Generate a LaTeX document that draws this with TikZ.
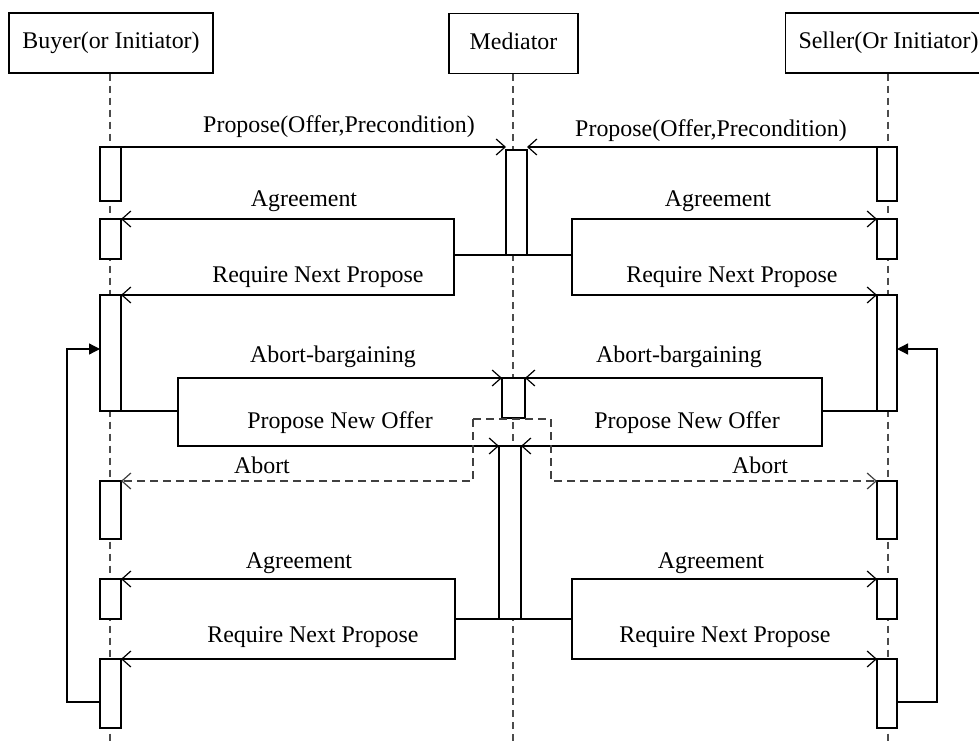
\documentclass[tikz,border=0pt]{standalone}
\usepackage{fontspec}
\setmainfont{Liberation Serif}
\usetikzlibrary{arrows.meta,backgrounds}
\newcommand\lblfont{\fontsize{24}{27}\selectfont}
\tikzset{
 hdr/.style={draw, line width=1.3bp, minimum height=60bp, inner sep=0, font=\lblfont, text height=17bp, text depth=5bp},
 act/.style={draw, fill=white, line width=1.3bp, inner sep=0, outer sep=0, anchor=north},
 life/.style={dash pattern=on 7bp off 5bp, line width=1.3bp, black!70},
 conn/.style={line width=1.3bp},
 msg/.style={conn, -{Straight Barb[length=9bp,width=16bp,line width=1.2bp]}},
 dconn/.style={conn, black!75, dash pattern=on 8bp off 5bp},
 dmsg/.style={msg, black!75, dash pattern=on 8bp off 5bp},
 loopar/.style={conn, -{Triangle[length=11bp,width=11bp]}},
 lbl/.style={font=\lblfont, inner sep=0}
}
\begin{document}
\begin{tikzpicture}[x=1bp,y=-1bp]
\useasboundingbox (0,0) rectangle (979,742);
\clip (0,0) rectangle (979,742);
% headers
\node[hdr, minimum width=204bp] (buyer) at (111,43) {Buyer(or Initiator)};
\node[hdr, minimum width=129bp] (med) at (513.5,43.5) {Mediator};
\node[hdr, minimum width=206bp] (seller) at (888.5,43) {Seller(Or Initiator)};
% bottom ends of lifelines
\coordinate (bbot) at (110,742);
\coordinate (mbot) at (513,742);
\coordinate (sbot) at (888,742);
% buyer activations
\node[act, minimum width=21bp, minimum height=54bp] (b1) at (110.5,147) {};
\node[act, minimum width=21bp, minimum height=40bp] (b2) at (110.5,219) {};
\node[act, minimum width=21bp, minimum height=116bp] (b3) at (110.5,295) {};
\node[act, minimum width=21bp, minimum height=58bp] (b4) at (110.5,481) {};
\node[act, minimum width=21bp, minimum height=40bp] (b5) at (110.5,579) {};
\node[act, minimum width=21bp, minimum height=69bp] (b6) at (110.5,659) {};
% seller activations
\node[act, minimum width=20bp, minimum height=54bp] (s1) at (887,147) {};
\node[act, minimum width=20bp, minimum height=40bp] (s2) at (887,219) {};
\node[act, minimum width=20bp, minimum height=116bp] (s3) at (887,295) {};
\node[act, minimum width=20bp, minimum height=58bp] (s4) at (887,481) {};
\node[act, minimum width=20bp, minimum height=40bp] (s5) at (887,579) {};
\node[act, minimum width=20bp, minimum height=69bp] (s6) at (887,659) {};
% mediator activations
\node[act, minimum width=21bp, minimum height=105bp] (m1) at (516.5,150) {};
\node[act, minimum width=23bp, minimum height=40bp] (m2) at (513.5,378) {};
\node[act, minimum width=22bp, minimum height=173bp] (m3) at (510,446) {};
% lifelines
\begin{scope}[on background layer]
\fill[white] (0,0) rectangle (979,742);
\draw[life] (buyer.south -| bbot) -- (bbot);
\draw[life] (med.south -| mbot) -- (mbot);
\draw[life] (seller.south -| sbot) -- (sbot);
\end{scope}
% coordinates of branch points
\coordinate (fl1) at (454,255);
\coordinate (fr1) at (572,255);
\coordinate (ab1) at (178,411);
\coordinate (ab2) at (822,411);
\coordinate (dl) at (473,419);
\coordinate (dr) at (551,419);
\coordinate (fl2) at (455,619);
\coordinate (fr2) at (572,619);
\coordinate (lc1) at (67,702);
\coordinate (lt1) at (67,349);
\coordinate (rc1) at (937,702);
\coordinate (rt1) at (937,349);
% proposals
\draw[msg] (b1.north east) -- (b1.north east -| m1.west);
\draw[msg] (s1.north west) -- (s1.north west -| m1.east);
% first agreement / require next
\draw[conn] (fl1) -- (fr1);
\draw[msg] (fl1) |- (b2.north east);
\draw[msg] (fl1) |- (b3.north east);
\draw[msg] (fr1) |- (s2.north west);
\draw[msg] (fr1) |- (s3.north west);
% abort-bargaining / propose new offer
\draw[conn] (b3.south east) -- (b3.south east -| ab1);
\draw[msg] (ab1) |- (m2.north west);
\draw[msg] (ab1) |- (m3.north west);
\draw[conn] (s3.south west) -- (s3.south west -| ab2);
\draw[msg] (ab2) |- (m2.north east);
\draw[msg] (ab2) |- (m3.north east);
% abort (dashed)
\draw[dconn] (dl) -- (dr);
\draw[dmsg] (dl) |- (b4.north east);
\draw[dmsg] (dr) |- (s4.north west);
% second agreement / require next
\draw[conn] (fl2) -- (fr2);
\draw[msg] (fl2) |- (b5.north east);
\draw[msg] (fl2) |- (b6.north east);
\draw[msg] (fr2) |- (s5.north west);
\draw[msg] (fr2) |- (s6.north west);
% loops
\draw[loopar] (b6.west |- lc1) -- (lc1) -- (lt1) -- (b3.west |- lt1);
\draw[loopar] (s6.east |- rc1) -- (rc1) -- (rt1) -- (s3.east |- rt1);
% labels
\node[lbl] (l1) at (339,127) {Propose(Offer,Precondition)};
\node[lbl] (l2) at (711,131) {Propose(Offer,Precondition)};
\node[lbl] (l3) at (304,201) {Agreement};
\node[lbl] (l4) at (718,201) {Agreement};
\node[lbl] (l5) at (318,277) {Require Next Propose};
\node[lbl] (l6) at (732,277) {Require Next Propose};
\node[lbl] (l7) at (333,357) {Abort-bargaining};
\node[lbl] (l8) at (679,357) {Abort-bargaining};
\node[lbl] (l9) at (340,423) {Propose New Offer};
\node[lbl] (l10) at (687,423) {Propose New Offer};
\node[lbl] (l11) at (262,465) {Abort};
\node[lbl] (l12) at (760,465) {Abort};
\node[lbl] (l13) at (299,563) {Agreement};
\node[lbl] (l14) at (711,563) {Agreement};
\node[lbl] (l15) at (313,637) {Require Next Propose};
\node[lbl] (l16) at (725,637) {Require Next Propose};
\end{tikzpicture}
\end{document}
